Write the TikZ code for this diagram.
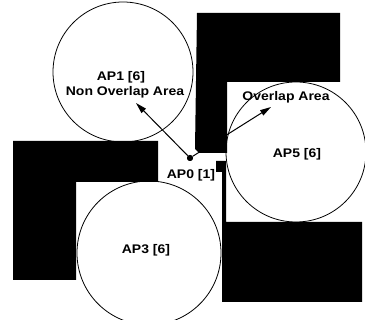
\documentclass[tikz,border=0pt]{standalone}
\usepackage{fontspec}
\setmainfont{Liberation Sans}[FakeStretch=1.12]
\usetikzlibrary{arrows.meta}
\begin{document}
\begin{tikzpicture}[x=1pt,y=-1pt,
  wall/.style={fill=black,draw=none},
  cell/.style={circle,draw=black,line width=0.8pt,fill=none,inner sep=0pt},
  lbl/.style={anchor=base,inner sep=0pt,font=\fontsize{12.5}{15}\selectfont\bfseries},
  ray/.style={line width=1pt,-{Triangle[length=11pt,width=6pt]}}
]
\useasboundingbox (0,0) rectangle (365,320);
% arrows (behind walls)
\node[circle,fill=black,inner sep=0pt,minimum size=6pt] (ap0) at (190,158) {};
\coordinate (t1) at (136,103);
\coordinate (t2) at (271,107);
\draw[ray] (ap0) -- (t1);
\draw[ray] (ap0) -- (t2);
% walls
\fill[wall] (197,13) -- (340,13) -- (340,82) -- (227,82) -- (227,153) -- (199,153) -- (195,149) -- cycle;
\fill[wall] (13,141) -- (158,141) -- (158,182) -- (76,182) -- (76,280) -- (13,280) -- cycle;
\fill[wall] (216,161) -- (226,161) -- (226,222) -- (362,222) -- (362,302) -- (222,302) -- (222,172) -- (216,172) -- cycle;
% dot on top
\fill (ap0) circle (3pt);
% coverage circles
\node[cell,minimum size=140pt] (c1) at (123,72) {};
\node[cell,minimum size=140pt] (c5) at (296,152) {};
\node[cell,minimum size=144pt] (c3) at (149,253) {};
% labels
\node[lbl] (l1a) at (121,81) {AP1 [6]};
\node[lbl] (l1b) at (125,96) {Non Overlap Area};
\node[lbl] (lov) at (286,101) {Overlap Area};
\node[lbl] (l5) at (297,158) {AP5 [6]};
\node[lbl] (l0) at (191,179) {AP0 [1]};
\node[lbl] (l3) at (146,254) {AP3 [6]};
\end{tikzpicture}
\end{document}
